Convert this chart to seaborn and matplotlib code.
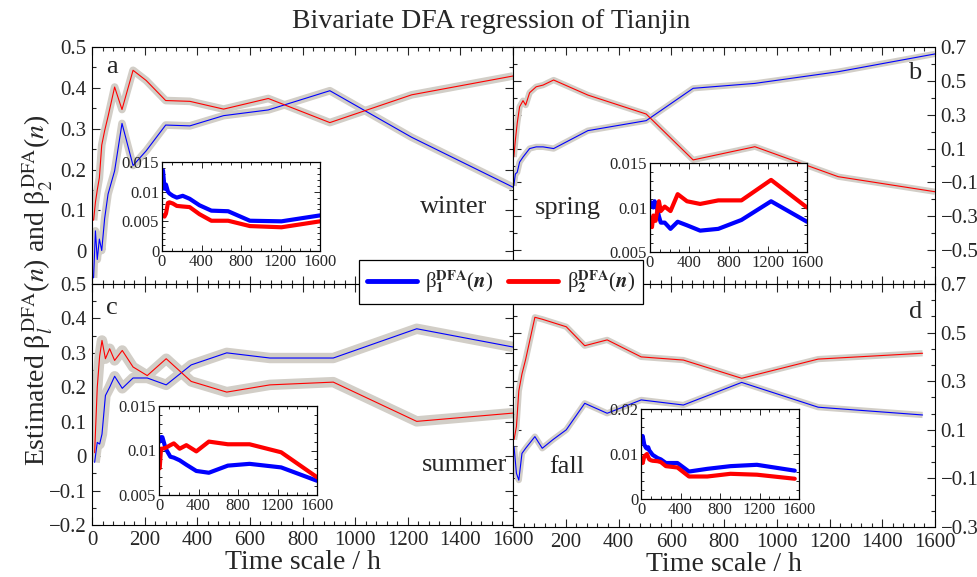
import numpy as np
import pandas as pd
import matplotlib
matplotlib.use("Agg")
import matplotlib.pyplot as plt
import seaborn as sns
from matplotlib.ticker import MultipleLocator, AutoMinorLocator, FixedLocator, FuncFormatter
from matplotlib.lines import Line2D

# ---------------- data ----------------
# panel a (winter)
a_x = [6, 13, 20, 28, 37, 48, 61, 86, 114, 156, 206, 280, 372, 500, 670, 904, 1215, 1600]
a_b1 = [-0.065, 0.05, -0.02, 0.03, 0.002, 0.08, 0.14, 0.197, 0.313, 0.21, 0.246, 0.309, 0.307, 0.332, 0.346, 0.393, 0.279, 0.157]
a_b2 = [0.076, 0.12, 0.15, 0.18, 0.26, 0.295, 0.33, 0.402, 0.347, 0.443, 0.418, 0.369, 0.367, 0.348, 0.374, 0.315, 0.383, 0.429]
# panel b (spring)
b_x = [3, 9, 16, 25, 38, 48, 63, 88, 114, 154, 284, 505, 683, 917, 1233, 1600]
b_b1 = [-0.12, -0.05, -0.04, 0.02, 0.05, 0.07, 0.10, 0.11, 0.11, 0.10, 0.206, 0.265, 0.456, 0.485, 0.554, 0.659]
b_b2 = [0.05, 0.15, 0.25, 0.347, 0.383, 0.357, 0.43, 0.465, 0.475, 0.505, 0.416, 0.304, 0.033, 0.111, -0.066, -0.155]
# panel c (summer)
c_x = [10, 20, 29, 38, 51, 67, 86, 115, 156, 210, 282, 377, 512, 676, 917, 1234, 1600]
c_b1 = [-0.018, 0.04, 0.035, 0.064, 0.176, 0.20, 0.232, 0.197, 0.227, 0.227, 0.207, 0.265, 0.30, 0.285, 0.285, 0.37, 0.317]
c_b2 = [0.01, 0.2, 0.29, 0.336, 0.283, 0.312, 0.278, 0.307, 0.259, 0.234, 0.283, 0.217, 0.186, 0.207, 0.215, 0.101, 0.125]
# panel d (fall)
d_x = [4, 13, 22, 34, 48, 83, 111, 152, 202, 272, 357, 486, 646, 867, 1157, 1553]
d_b1 = [0.03, -0.079, -0.107, 0.003, 0.024, 0.072, 0.024, 0.06, 0.10, 0.209, 0.168, 0.223, 0.202, 0.295, 0.193, 0.161]
d_b2 = [0.06, 0.113, 0.26, 0.33, 0.39, 0.563, 0.555, 0.541, 0.524, 0.446, 0.47, 0.40, 0.387, 0.312, 0.391, 0.415]

# insets (standard errors)
ia_x = [10, 25, 40, 60, 75, 110, 150, 210, 280, 380, 500, 670, 890, 1210, 1600]
ia_b1 = [0.0136, 0.0105, 0.0112, 0.0100, 0.0097, 0.0093, 0.0090, 0.0093, 0.0088, 0.0077, 0.0068, 0.0067, 0.0051, 0.0050, 0.0060]
ia_b2 = [0.0060, 0.0058, 0.0063, 0.0081, 0.0082, 0.0080, 0.0076, 0.0075, 0.0074, 0.0062, 0.0051, 0.0051, 0.0042, 0.0040, 0.0050]
ib_x = [7, 20, 34, 47, 57, 75, 91, 110, 150, 209, 282, 377, 511, 696, 932, 1234, 1600]
ib_b1 = [0.0106, 0.0102, 0.0100, 0.0107, 0.0102, 0.0098, 0.0090, 0.0083, 0.0083, 0.0076, 0.0084, 0.0080, 0.0074, 0.0076, 0.0086, 0.0107, 0.0084]
ib_b2 = [0.0085, 0.0078, 0.0091, 0.0088, 0.0085, 0.0097, 0.0107, 0.0096, 0.0101, 0.0096, 0.0115, 0.0107, 0.0104, 0.0108, 0.0108, 0.0131, 0.0100]
ic_x = [7, 20, 34, 68, 115, 150, 209, 277, 378, 505, 697, 917, 1237, 1600]
ic_b1 = [0.0110, 0.0115, 0.0115, 0.0102, 0.0093, 0.0092, 0.0089, 0.0084, 0.0077, 0.0075, 0.0083, 0.0085, 0.0081, 0.0066]
ic_b2 = [0.0080, 0.0102, 0.0102, 0.0103, 0.0106, 0.0108, 0.0102, 0.0106, 0.0099, 0.0110, 0.0107, 0.0107, 0.0098, 0.0070]
id_x = [17, 33, 50, 60, 73, 84, 101, 118, 168, 201, 252, 369, 486, 671, 906, 1174, 1557]
id_b1 = [0.0140, 0.0121, 0.0114, 0.0112, 0.0115, 0.0108, 0.0103, 0.0098, 0.0091, 0.0088, 0.0080, 0.0080, 0.0061, 0.0067, 0.0073, 0.0076, 0.0063]
id_b2 = [0.0080, 0.0095, 0.0098, 0.0100, 0.0093, 0.0088, 0.0086, 0.0085, 0.0084, 0.0082, 0.0073, 0.0070, 0.0050, 0.0050, 0.0056, 0.0054, 0.0045]

seasons = ["winter", "spring", "summer", "fall"]
letters = ["a", "b", "c", "d"]
title = "Bivariate DFA regression of Tianjin"
xlabel = "Time scale / h"
ylabel = r"Estimated β$_{l}^{\,\mathrm{DFA}}$($n$) and β$_{2}^{\,\mathrm{DFA}}$($n$)"
leg1 = r"β$_{\mathbf{1}}^{\mathbf{DFA}}$($\mathbfit{n}$)"
leg2 = r"β$_{\mathbf{2}}^{\mathbf{DFA}}$($\mathbfit{n}$)"

# ---------------- style ----------------
sns.set_style("ticks")
plt.rcParams['font.family'] = ['Liberation Serif', 'DejaVu Serif']
plt.rcParams['mathtext.fontset'] = 'stix'
plt.rcParams['axes.linewidth'] = 0.8

BLUE = "#0000ff"
RED = "#ff0000"
BAND = "#d2cec7"

W, H = 977, 577
fig = plt.figure(figsize=(W / 100, H / 100), dpi=100)


def rect(x0, y0, x1, y1):
    return [x0 / W, 1 - y1 / H, (x1 - x0) / W, (y1 - y0) / H]


def fmt(v, pos=None):
    s = "{:g}".format(round(v, 6))
    if s == "-0":
        s = "0"
    return s.replace("-", "\u2212")


panels = [
    dict(x=a_x, b1=a_b1, b2=a_b2, rect=rect(92, 47, 513, 284), ylim=(-0.08, 0.5),
         yticks=[0, 0.1, 0.2, 0.3, 0.4, 0.5], yminor=MultipleLocator(0.05), side="left",
         xlabels=False, band=5.5,
         ix=ia_x, i1=ia_b1, i2=ia_b2, irect=rect(162, 162, 320, 251), iylim=(0, 0.015),
         iyticks=[0, 0.005, 0.01, 0.015], season_pos=(454, 207), letter_pos=(112, 67)),
    dict(x=b_x, b1=b_b1, b2=b_b2, rect=rect(513, 47, 935, 284), ylim=(-0.7, 0.7),
         yticks=[-0.5, -0.3, -0.1, 0.1, 0.3, 0.5, 0.7], yminor=MultipleLocator(0.1), side="right",
         xlabels=False, band=4.5,
         ix=ib_x, i1=ib_b1, i2=ib_b2, irect=rect(650, 163, 807, 252), iylim=(0.005, 0.015),
         iyticks=[0.005, 0.01, 0.015], season_pos=(568, 208), letter_pos=(915, 73)),
    dict(x=c_x, b1=c_b1, b2=c_b2, rect=rect(92, 284, 513, 525), ylim=(-0.2, 0.5),
         yticks=[-0.2, -0.1, 0, 0.1, 0.2, 0.3, 0.4, 0.5], yminor=MultipleLocator(0.05), side="left",
         xlabels=True, band=7.5,
         ix=ic_x, i1=ic_b1, i2=ic_b2, irect=rect(159, 406, 317, 495), iylim=(0.005, 0.015),
         iyticks=[0.005, 0.01, 0.015], season_pos=(465, 465), letter_pos=(112, 308)),
    dict(x=d_x, b1=d_b1, b2=d_b2, rect=rect(513, 284, 935, 527), ylim=(-0.3, 0.7),
         yticks=[-0.3, -0.1, 0.1, 0.3, 0.5, 0.7], yminor=AutoMinorLocator(3), side="right",
         xlabels=True, band=4.5,
         ix=id_x, i1=id_b1, i2=id_b2, irect=rect(641, 409, 799, 499), iylim=(0, 0.02),
         iyticks=[0, 0.01, 0.02], season_pos=(567, 467), letter_pos=(916, 312)),
]

for k, p in enumerate(panels):
    ax = fig.add_axes(p["rect"])
    df = pd.DataFrame({"x": p["x"], "b1": p["b1"], "b2": p["b2"]})
    # grey confidence bands
    sns.lineplot(data=df, x="x", y="b1", ax=ax, color=BAND, lw=p["band"], solid_capstyle="butt",
                 solid_joinstyle="round", estimator=None, sort=False)
    sns.lineplot(data=df, x="x", y="b2", ax=ax, color=BAND, lw=p["band"], solid_capstyle="butt",
                 solid_joinstyle="round", estimator=None, sort=False)
    sns.lineplot(data=df, x="x", y="b1", ax=ax, color=BLUE, lw=0.8, estimator=None, sort=False)
    sns.lineplot(data=df, x="x", y="b2", ax=ax, color=RED, lw=0.8, estimator=None, sort=False)
    ax.set_xlim(0, 1600)
    ax.set_ylim(*p["ylim"])
    ax.set_xlabel("")
    ax.set_ylabel("")
    ax.xaxis.set_major_locator(MultipleLocator(200))
    ax.xaxis.set_minor_locator(MultipleLocator(40))
    ax.yaxis.set_major_locator(FixedLocator(p["yticks"]))
    ax.yaxis.set_minor_locator(p["yminor"])
    ax.xaxis.set_major_formatter(FuncFormatter(fmt))
    ax.yaxis.set_major_formatter(FuncFormatter(fmt))
    ax.tick_params(which="both", direction="in", top=True, bottom=True, left=True, right=True,
                   labelsize=15, width=0.8, pad=4)
    ax.tick_params(which="major", length=6)
    ax.tick_params(which="minor", length=3)
    if p["side"] == "left":
        ax.tick_params(labelleft=True, labelright=False)
    else:
        ax.tick_params(labelleft=False, labelright=True)
    if p["xlabels"]:
        ax.tick_params(labelbottom=True)
        ax.set_xlabel(xlabel, fontsize=20, labelpad=0)
        if p["side"] == "right":
            ax.set_xticks([200, 400, 600, 800, 1000, 1200, 1400, 1600])
    else:
        ax.tick_params(labelbottom=False)
    for s in ax.spines.values():
        s.set_visible(True)
        s.set_color("black")

    # inset
    ins = fig.add_axes(p["irect"])
    idf = pd.DataFrame({"x": p["ix"], "b1": p["i1"], "b2": p["i2"]})
    sns.lineplot(data=idf, x="x", y="b1", ax=ins, color=BLUE, lw=3.0, estimator=None, sort=False)
    sns.lineplot(data=idf, x="x", y="b2", ax=ins, color=RED, lw=3.0, estimator=None, sort=False)
    ins.set_xlim(0, 1600)
    ins.set_ylim(*p["iylim"])
    ins.set_xlabel("")
    ins.set_ylabel("")
    ins.xaxis.set_major_locator(FixedLocator([0, 400, 800, 1200, 1600]))
    ins.xaxis.set_minor_locator(MultipleLocator(100))
    ins.yaxis.set_major_locator(FixedLocator(p["iyticks"]))
    ins.yaxis.set_minor_locator(AutoMinorLocator(5))
    ins.xaxis.set_major_formatter(FuncFormatter(fmt))
    ins.yaxis.set_major_formatter(FuncFormatter(fmt))
    ins.tick_params(which="both", direction="in", top=True, right=True, labelsize=12,
                    width=0.7, pad=2)
    ins.tick_params(which="major", length=4)
    ins.tick_params(which="minor", length=2)
    for s in ins.spines.values():
        s.set_visible(True)
        s.set_color("black")
        s.set_linewidth(0.9)

    sx, sy = p["season_pos"]
    fig.text(sx / W, 1 - sy / H, seasons[k], fontsize=19, ha="center", va="center")
    lx, ly = p["letter_pos"]
    fig.text(lx / W, 1 - ly / H, letters[k], fontsize=19, ha="center", va="center")

fig.text(491 / W, 1 - 21 / H, title, fontsize=20, ha="center", va="center")
fig.text(38 / W, 1 - 290 / H, ylabel, fontsize=20, ha="center", va="center", rotation=90)

handles = [Line2D([0], [0], color=BLUE, lw=3.5), Line2D([0], [0], color=RED, lw=3.5)]
leg = fig.legend(handles, [leg1, leg2], loc="center", bbox_to_anchor=(501 / W, 1 - 282 / H),
                 ncol=2, fontsize=15, frameon=True, fancybox=False, framealpha=1,
                 edgecolor="black", handlelength=2.4, columnspacing=0.7, borderpad=0.4,
                 handletextpad=0.4, borderaxespad=0)
leg.get_frame().set_linewidth(0.9)

fig.savefig("out.png", dpi=100)
